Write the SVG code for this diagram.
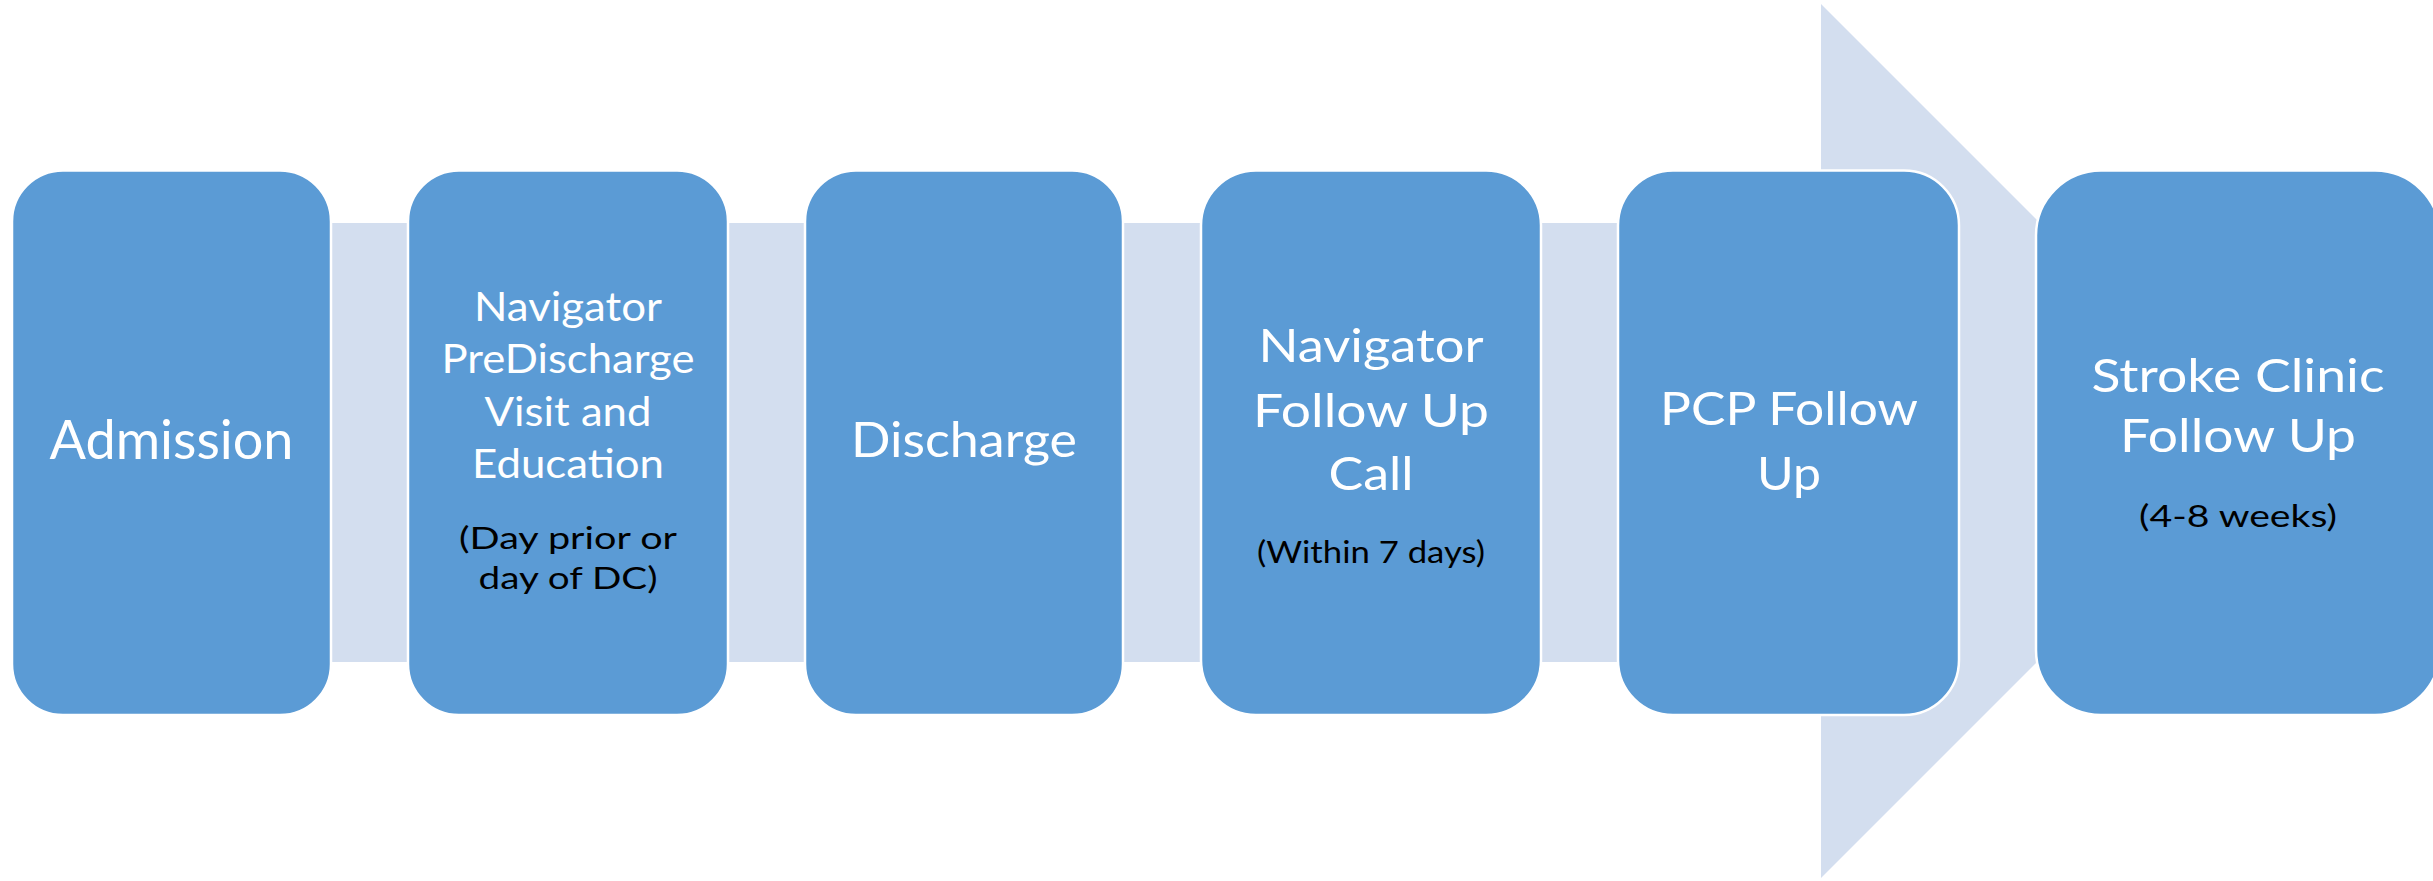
<svg xmlns="http://www.w3.org/2000/svg" width="2433" height="881" viewBox="0 0 2433 881">
<style>
.box{fill:#5B9BD5;stroke:#FFFFFF;stroke-width:2.5}
.t{font-family:Lato,"Liberation Sans",sans-serif;fill:#FFFFFF;text-anchor:middle}
.s{font-family:Lato,"Liberation Sans",sans-serif;fill:#000000;text-anchor:middle;font-size:30px}
</style>
<rect width="2433" height="881" fill="#FFFFFF"/>
<g id="connectors">
<polygon points="12,223 1821,223 1821,4 2258,441 1821,878 1821,662 12,662" fill="#D3DEEF"/>
</g>
<g id="admission">
<rect class="box" x="12" y="170.5" width="319" height="544.5" rx="51" ry="51"/>
<text class="t" x="171.5" y="459" font-size="54" textLength="244" lengthAdjust="spacingAndGlyphs">Admission</text>
</g>
<g id="predischarge">
<rect class="box" x="408" y="170.5" width="320" height="544.5" rx="51" ry="51"/>
<text class="t" x="568" y="321" font-size="40" textLength="188" lengthAdjust="spacingAndGlyphs">Navigator</text>
<text class="t" x="568" y="373" font-size="40" textLength="253" lengthAdjust="spacingAndGlyphs">PreDischarge</text>
<text class="t" x="568" y="426" font-size="40" textLength="167" lengthAdjust="spacingAndGlyphs">Visit and</text>
<text class="t" x="568" y="478" font-size="40" textLength="192" lengthAdjust="spacingAndGlyphs">Education</text>
<text class="s" x="568" y="549" textLength="218" lengthAdjust="spacingAndGlyphs">(Day prior or</text>
<text class="s" x="568" y="589" textLength="179" lengthAdjust="spacingAndGlyphs">day of DC)</text>
</g>
<g id="discharge">
<rect class="box" x="805" y="170.5" width="318" height="544.5" rx="51" ry="51"/>
<text class="t" x="964" y="457" font-size="49" textLength="226" lengthAdjust="spacingAndGlyphs">Discharge</text>
</g>
<g id="navigator-call">
<rect class="box" x="1201" y="170.5" width="340" height="544.5" rx="55" ry="55"/>
<text class="t" x="1371" y="362" font-size="46.5" textLength="225" lengthAdjust="spacingAndGlyphs">Navigator</text>
<text class="t" x="1371" y="427" font-size="46.5" textLength="236" lengthAdjust="spacingAndGlyphs">Follow Up</text>
<text class="t" x="1371" y="490" font-size="46.5" textLength="85" lengthAdjust="spacingAndGlyphs">Call</text>
<text class="s" x="1371" y="563" textLength="228" lengthAdjust="spacingAndGlyphs">(Within 7 days)</text>
</g>
<g id="pcp">
<rect class="box" x="1618" y="170.5" width="341" height="544.5" rx="55" ry="55"/>
<text class="t" x="1789" y="425" font-size="46.5" textLength="258" lengthAdjust="spacingAndGlyphs">PCP Follow</text>
<text class="t" x="1789" y="490" font-size="46.5" textLength="64" lengthAdjust="spacingAndGlyphs">Up</text>
</g>
<g id="stroke-clinic">
<rect class="box" x="2036" y="170.5" width="404" height="544.5" rx="65" ry="65"/>
<text class="t" x="2238" y="392" font-size="46.5" textLength="293" lengthAdjust="spacingAndGlyphs">Stroke Clinic</text>
<text class="t" x="2238" y="452" font-size="46.5" textLength="236" lengthAdjust="spacingAndGlyphs">Follow Up</text>
<text class="s" x="2238" y="527" textLength="198" lengthAdjust="spacingAndGlyphs">(4-8 weeks)</text>
</g>
</svg>
